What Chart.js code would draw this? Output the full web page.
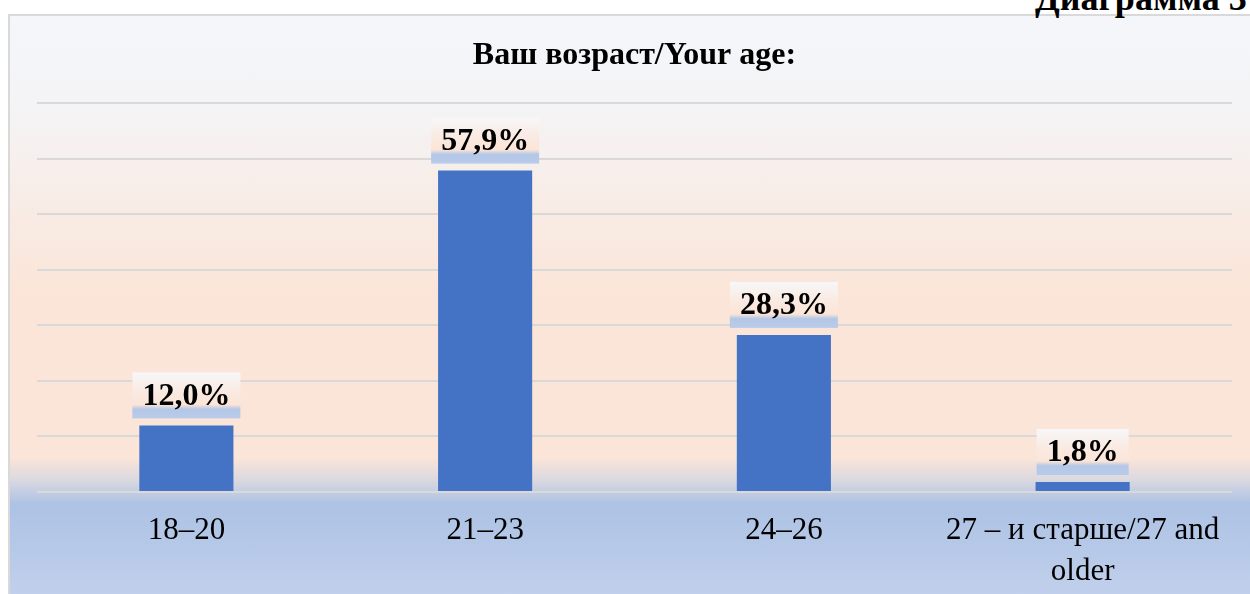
<!DOCTYPE html>
<html>
<head>
<meta charset="utf-8">
<script src="https://cdn.jsdelivr.net/npm/chart.js@4"></script>
<style>
  html, body { margin: 0; padding: 0; width: 1250px; height: 594px; overflow: hidden; background: #ffffff; }
  #frame {
    position: absolute; left: 8px; top: 14px; width: 1260px; height: 600px;
    border: 2px solid #d9d9d9;
    background: linear-gradient(to bottom,
      #f4f6fa 0px, #f4f4f6 86px, #f8ece6 186px, #fbe5d8 276px,
      #fbe5d8 441px, #dcd9e0 463px, #adc2e4 488px, #c1d0ec 580px);
  }
  #caption {
    position: absolute; left: 1035px; top: -20px; white-space: nowrap;
    font: bold 36px "Liberation Serif", "Times New Roman", serif; line-height: 36px; color: #000;
  }
  #chart { position: absolute; left: 0; top: 0; }
</style>
</head>
<body>
<div id="frame"></div>
<div id="caption">Диаграмма 3</div>
<canvas id="chart" width="1250" height="594"></canvas>
<script>
// Дані діаграми
const categories = ['18–20', '21–23', '24–26', ['27 – и старше/27 and', 'older']];
const shares = [12.0, 57.9, 28.3, 1.8];
const yTicks = [0, 10, 20, 30, 40, 50, 60, 70];

const serif = '"Liberation Serif", "Times New Roman", serif';

// Підписи значень над стовпцями з градієнтною підкладкою
const valueLabels = {
    id: 'valueLabels',
    afterDatasetsDraw(chart) {
        const ctx = chart.ctx;
        const meta = chart.getDatasetMeta(0);
        ctx.save();
        ctx.font = 'bold 32px ' + serif;
        ctx.textAlign = 'center';
        ctx.textBaseline = 'middle';
        meta.data.forEach((bar, i) => {
            const text = shares[i].toFixed(1).replace('.', ',') + '%';
            const w = ctx.measureText(text).width + 20;
            const h = 46;
            const bottom = bar.y - 7;
            const top = bottom - h;
            const left = bar.x - w / 2;
            const g = ctx.createLinearGradient(0, top, 0, bottom);
            g.addColorStop(0, '#f7f7f8');
            g.addColorStop(0.45, '#fae9e0');
            g.addColorStop(0.7, '#fbe5d7');
            g.addColorStop(0.8, '#b4c7e7');
            g.addColorStop(1, '#b9cbea');
            ctx.fillStyle = g;
            ctx.fillRect(left, top, w, h);
            ctx.fillStyle = '#000000';
            ctx.fillText(text, bar.x, top + h / 2 + 1);
        });
        ctx.restore();
    }
};

new Chart(document.getElementById('chart'), {
    type: 'bar',
    data: {
        labels: categories,
        datasets: [{
            data: shares,
            backgroundColor: '#4472c4',
            borderWidth: 0,
            barPercentage: 0.63,
            categoryPercentage: 0.5
        }]
    },
    options: {
        responsive: false,
        animation: false,
        layout: { padding: { left: 37, right: 18, top: 14, bottom: 0 } },
        plugins: {
            legend: { display: false },
            tooltip: { enabled: false },
            title: {
                display: true,
                text: 'Ваш возраст/Your age:',
                color: '#000000',
                font: { family: serif, size: 32, weight: 'bold', lineHeight: 1.2 },
                padding: { top: 23, bottom: 28 }
            }
        },
        scales: {
            x: {
                grid: { display: false, drawTicks: false },
                border: { display: false },
                ticks: {
                    color: '#000000',
                    font: { family: serif, size: 31, lineHeight: 1.3 },
                    padding: 19,
                    maxRotation: 0,
                    autoSkip: false
                },
                afterFit: (axis) => { axis.height = 102; }
            },
            y: {
                min: 0,
                max: 70,
                afterBuildTicks: (axis) => { axis.ticks = yTicks.map(v => ({ value: v })); },
                ticks: { display: false },
                border: { display: false },
                grid: { color: '#d9d9d9', lineWidth: 2, drawTicks: false }
            }
        }
    },
    plugins: [valueLabels]
});
</script>
</body>
</html>
